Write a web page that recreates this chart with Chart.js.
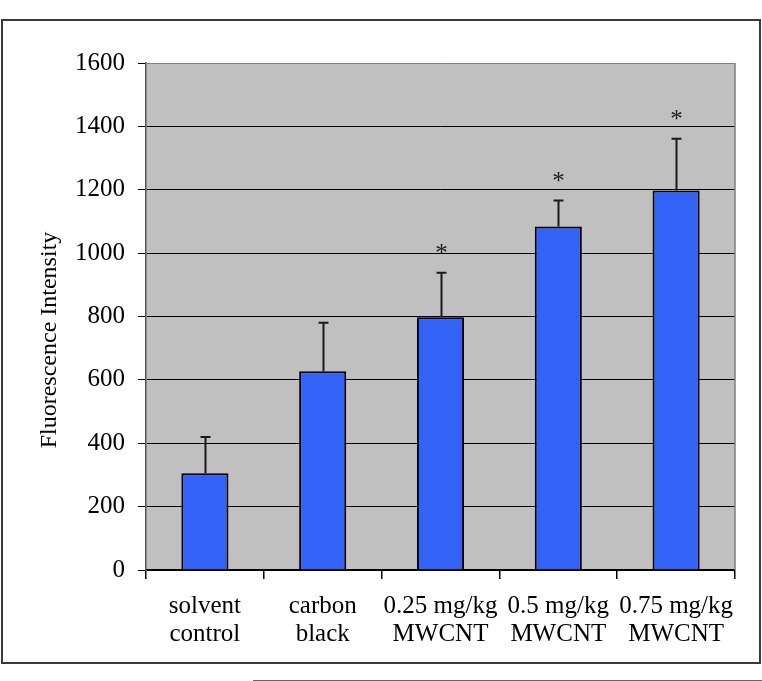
<!DOCTYPE html>
<html>
<head>
<meta charset="utf-8">
<script src="https://cdn.jsdelivr.net/npm/chart.js@4.4.1/dist/chart.umd.min.js"></script>
<style>
  html, body { margin: 0; padding: 0; background: #fff; }
  #wrap { position: relative; width: 762px; height: 681px; overflow: hidden; }
  #frame { position: absolute; left: 1px; top: 19px; width: 756px; height: 641px; border: 2px solid #3a3a3a; }
  #rule { position: absolute; left: 253px; top: 680px; width: 509px; height: 0; border-top: 1px solid #666; }
  canvas { position: absolute; left: 0; top: 0; }
</style>
</head>
<body>
<div id="wrap">
  <div id="frame"></div>
  <div id="rule"></div>
  <canvas id="c" width="762" height="681"></canvas>
</div>
<script>
const categories = [["solvent", "control"], ["carbon", "black"], ["0.25 mg/kg", "MWCNT"], ["0.5 mg/kg", "MWCNT"], ["0.75 mg/kg", "MWCNT"]];
const means = [305, 627, 798, 1084, 1198];
const errors = [115, 153, 140, 82, 163];
const significant = [false, false, true, true, true];
const yTicks = [0, 200, 400, 600, 800, 1000, 1200, 1400, 1600];
const yTitle = "Fluorescence Intensity";

const FONT = "'Liberation Serif', 'Times New Roman', serif";

const bgPlugin = {
  id: 'bg',
  beforeDraw(chart) {
    const {ctx, chartArea: a} = chart;
    ctx.save();
    ctx.fillStyle = '#c0c0c0';
    ctx.fillRect(a.left, a.top, a.right - a.left, a.bottom - a.top);
    ctx.restore();
  },
  afterDraw(chart) {
    const {ctx, chartArea: a} = chart;
    ctx.save();
    ctx.strokeStyle = '#808080';
    ctx.lineWidth = 1.5;
    ctx.beginPath();
    ctx.moveTo(a.right, a.top);
    ctx.lineTo(a.right, a.bottom);
    ctx.stroke();
    ctx.fillStyle = '#000';
    ctx.font = "24px " + FONT;
    ctx.textAlign = 'center';
    ctx.textBaseline = 'middle';
    ctx.translate(50, 340);
    ctx.rotate(-Math.PI / 2);
    ctx.fillText(yTitle, 0, 0);
    ctx.restore();
  }
};

const errPlugin = {
  id: 'err',
  afterDatasetsDraw(chart) {
    const {ctx} = chart;
    const meta = chart.getDatasetMeta(0);
    const ys = chart.scales.y;
    ctx.save();
    meta.data.forEach((bar, i) => {
      const x = Math.round(bar.x) + 0.5;
      const y0 = ys.getPixelForValue(means[i]);
      const y1 = ys.getPixelForValue(means[i] + errors[i]);
      ctx.strokeStyle = '#1a1a1a';
      ctx.lineWidth = 2;
      ctx.beginPath();
      ctx.moveTo(x, y0);
      ctx.lineTo(x, y1);
      ctx.moveTo(x - 5, y1);
      ctx.lineTo(x + 5, y1);
      ctx.stroke();
      if (significant[i]) {
        ctx.fillStyle = '#222';
        ctx.font = "25px " + FONT;
        ctx.textAlign = 'center';
        ctx.textBaseline = 'alphabetic';
        ctx.fillText('*', x, y1 - 12);
      }
    });
    ctx.restore();
  }
};

new Chart(document.getElementById('c'), {
  type: 'bar',
  data: {
    labels: categories,
    datasets: [{
      data: means,
      backgroundColor: '#3362f7',
      borderColor: '#000',
      borderWidth: 2,
      borderSkipped: 'bottom',
      categoryPercentage: 1.0,
      barPercentage: 0.4
    }]
  },
  options: {
    responsive: false,
    animation: false,
    devicePixelRatio: 1,
    layout: { padding: { top: 63, right: 27, bottom: 0, left: 0 } },
    plugins: { legend: { display: false }, tooltip: { enabled: false } },
    scales: {
      x: {
        offset: true,
        grid: { offset: true, drawOnChartArea: false, drawTicks: true, tickLength: 9, color: '#000', lineWidth: 1.5 },
        border: { color: '#000', width: 1.5 },
        ticks: { color: '#000', font: { family: FONT, size: 25, lineHeight: 1.12 }, padding: 13, maxRotation: 0, autoSkip: false },
        afterFit(s) { s.height = 111; }
      },
      y: {
        min: 0, max: 1600,
        afterBuildTicks(s) { s.ticks = yTicks.map(v => ({ value: v })); },
        grid: {
          color: ctx => (ctx.tick && ctx.tick.value === 1600) ? '#808080' : '#000',
          tickColor: '#000',
          lineWidth: 1,
          tickLength: 8
        },
        border: { color: '#555', width: 1.5 },
        ticks: { color: '#000', font: { family: FONT, size: 25 }, padding: 13, callback: v => String(v) },
        afterFit(s) { s.width = 146; }
      }
    }
  },
  plugins: [bgPlugin, errPlugin]
});
</script>
</body>
</html>
